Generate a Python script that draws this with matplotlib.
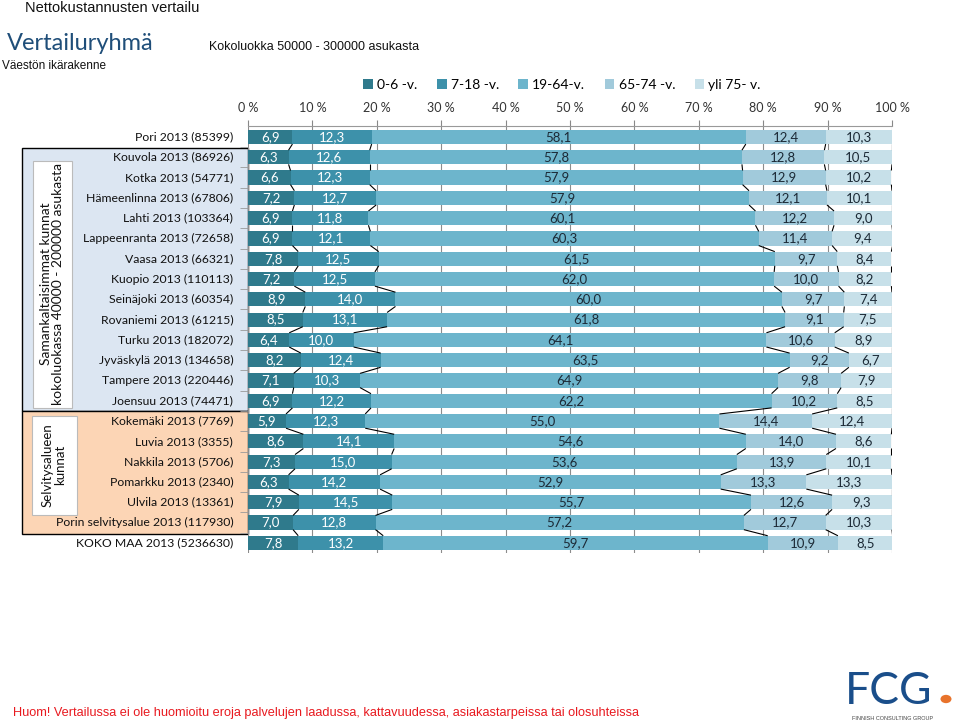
import matplotlib
matplotlib.use("Agg")
import matplotlib.pyplot as plt
from matplotlib.patches import Rectangle, Circle
import numpy as np

categories = [
    "Pori 2013 (85399)", "Kouvola 2013 (86926)", "Kotka 2013 (54771)",
    "Hämeenlinna 2013 (67806)", "Lahti 2013 (103364)", "Lappeenranta 2013 (72658)",
    "Vaasa 2013 (66321)", "Kuopio 2013 (110113)", "Seinäjoki 2013 (60354)",
    "Rovaniemi 2013 (61215)", "Turku 2013 (182072)", "Jyväskylä 2013 (134658)",
    "Tampere 2013 (220446)", "Joensuu 2013 (74471)", "Kokemäki 2013 (7769)",
    "Luvia 2013 (3355)", "Nakkila 2013 (5706)", "Pomarkku 2013 (2340)",
    "Ulvila 2013 (13361)", "Porin selvitysalue 2013 (117930)", "KOKO MAA 2013 (5236630)",
]
series_names = ["0-6 -v.", "7-18 -v.", "19-64-v.", "65-74 -v.", "yli 75- v."]
age_0_6 = [6.9, 6.3, 6.6, 7.2, 6.9, 6.9, 7.8, 7.2, 8.9, 8.5, 6.4, 8.2, 7.1, 6.9, 5.9, 8.6, 7.3, 6.3, 7.9, 7.0, 7.8]
age_7_18 = [12.3, 12.6, 12.3, 12.7, 11.8, 12.1, 12.5, 12.5, 14.0, 13.1, 10.0, 12.4, 10.3, 12.2, 12.3, 14.1, 15.0, 14.2, 14.5, 12.8, 13.2]
age_19_64 = [58.1, 57.8, 57.9, 57.9, 60.1, 60.3, 61.5, 62.0, 60.0, 61.8, 64.1, 63.5, 64.9, 62.2, 55.0, 54.6, 53.6, 52.9, 55.7, 57.2, 59.7]
age_65_74 = [12.4, 12.8, 12.9, 12.1, 12.2, 11.4, 9.7, 10.0, 9.7, 9.1, 10.6, 9.2, 9.8, 10.2, 14.4, 14.0, 13.9, 13.3, 12.6, 12.7, 10.9]
age_75 = [10.3, 10.5, 10.2, 10.1, 9.0, 9.4, 8.4, 8.2, 7.4, 7.5, 8.9, 6.7, 7.9, 8.5, 12.4, 8.6, 10.1, 13.3, 9.3, 10.3, 8.5]
x_ticks = [0, 10, 20, 30, 40, 50, 60, 70, 80, 90, 100]
x_tick_labels = [f"{t} %" for t in x_ticks]

colors = ["#2f7a8c", "#3d91aa", "#6db5cc", "#a1cadb", "#c7e0e9"]
label_colors = ["white", "white", "#1c2a36", "#1c2a36", "#1c2a36"]

W, H = 960, 726
fig = plt.figure(figsize=(W / 100, H / 100), dpi=100)

def fx(px):
    return px / W

def fy(py):
    return 1 - py / H

CAL = ["Lato", "DejaVu Sans"]
ARI = ["Liberation Sans", "DejaVu Sans"]

ax_left, ax_right, ax_top, ax_bot = 248, 892, 126, 553
ax = fig.add_axes([fx(ax_left), fy(ax_bot), fx(ax_right - ax_left), (ax_bot - ax_top) / H])

data = np.array([age_0_6, age_7_18, age_19_64, age_65_74, age_75]).T
n = len(categories)
y = np.arange(n)
bh = 0.7
cum = np.zeros(n)
cums = [np.zeros(n)]
for k in range(5):
    ax.barh(y, data[:, k], left=cum, height=bh, color=colors[k], zorder=2, label=series_names[k])
    for i in range(n):
        ax.text(cum[i] + data[i, k] / 2, y[i], f"{data[i, k]:.1f}".replace(".", ","),
                ha="center", va="center", fontsize=9.5, color=label_colors[k],
                family=CAL, zorder=4)
    cum = cum + data[:, k]
    cums.append(cum.copy())

# series lines
for k in range(1, 6):
    c = cums[k]
    for i in range(n - 1):
        ax.plot([c[i], c[i + 1]], [y[i] + bh / 2, y[i + 1] - bh / 2], color="black",
                lw=0.8, zorder=3, solid_capstyle="butt")

ax.set_xlim(0, 100)
ax.set_ylim(n - 0.5, -0.54)
ax.xaxis.tick_top()
ax.set_xticks(x_ticks)
ax.set_xticklabels(x_tick_labels, family=CAL, fontsize=9, color="#333333")
ax.tick_params(axis="x", length=4, color="#888888", pad=5)
ax.set_yticks(np.arange(n - 1) + 0.5, minor=True)
ax.set_yticks([])
ax.tick_params(axis="y", which="minor", length=6, color="#999999", direction="out")
ax.grid(axis="x", color="#8c8c8c", lw=0.8, zorder=0)
ax.set_axisbelow(True)
for s in ["left", "right", "bottom"]:
    ax.spines[s].set_visible(False)
ax.spines["top"].set_color("#999999")
ax.patch.set_alpha(0)

# category labels
for i, c in enumerate(categories):
    ax.text(-2.3, y[i], c, ha="right", va="center", fontsize=8.8,
            family=CAL, color="#111111", clip_on=False)

# panels (figure coordinates)
blue = Rectangle((fx(22), fy(411)), fx(248 - 22), (411 - 148) / H, transform=fig.transFigure,
                 facecolor="#dce6f2", edgecolor="black", lw=1.0, zorder=-5)
orange = Rectangle((fx(22), fy(534)), fx(248 - 22), (534 - 411) / H, transform=fig.transFigure,
                   facecolor="#fcd5b5", edgecolor="black", lw=1.0, zorder=-5)
fig.patches.extend([blue, orange])
wb1 = Rectangle((fx(33), fy(408)), fx(72 - 33), (408 - 161) / H, transform=fig.transFigure,
                facecolor="white", edgecolor="#bbbbbb", lw=0.8, zorder=-4)
wb2 = Rectangle((fx(32), fy(515)), fx(77 - 32), (515 - 416) / H, transform=fig.transFigure,
                facecolor="white", edgecolor="#bbbbbb", lw=0.8, zorder=-4)
fig.patches.extend([wb1, wb2])
fig.text(fx(52), fy(284), "Samankaltaisimmat kunnat\nkokoluokassa 40000 - 200000 asukasta",
         rotation=90, ha="center", va="center", fontsize=10, family=CAL,
         linespacing=1.05, color="#111111")
fig.text(fx(54), fy(465), "Selvitysalueen\nkunnat", rotation=90, ha="center", va="center",
         fontsize=9.5, family=CAL, linespacing=1.05, color="#111111")

# headings
fig.text(fx(25), fy(8), "Nettokustannusten vertailu", ha="left", va="center", fontsize=10.5,
         family=ARI, color="#111111")
fig.text(fx(7), fy(44), "Vertailuryhmä", ha="left", va="center", fontsize=17,
         family=CAL, color="#1f4e79")
fig.text(fx(209), fy(47), "Kokoluokka 50000 - 300000 asukasta", ha="left", va="center",
         fontsize=9, family=ARI, color="#111111")
fig.text(fx(2), fy(66), "Väestön ikärakenne", ha="left", va="center", fontsize=8.5,
         family=ARI, color="#111111")

# legend
handles, labels = ax.get_legend_handles_labels()
leg = fig.legend(handles, labels, loc="center", bbox_to_anchor=(fx(562), fy(85)), ncol=5,
                 frameon=False, handlelength=0.7, handleheight=0.7, handletextpad=0.3,
                 columnspacing=1.4, prop={"family": CAL, "size": 10})

# footer
fig.text(fx(13), fy(713), "Huom! Vertailussa ei ole huomioitu eroja palvelujen laadussa, kattavuudessa, asiakastarpeissa tai olosuhteissa",
         ha="left", va="center", fontsize=9.2, family=["Liberation Sans Narrow", "Liberation Sans"],
         color="#e8191f")
fig.text(fx(845), fy(691), "FCG", ha="left", va="center", fontsize=32, family=["Lato", "DejaVu Sans"],
         color="#1a4e8a")
fig.patches.append(Circle((fx(946), fy(699)), 5.5 / W, transform=fig.transFigure,
                          facecolor="#e8732b", edgecolor="none"))
fig.text(fx(893), fy(718), "FINNISH CONSULTING GROUP", ha="center", va="center", fontsize=4,
         family=ARI, color="#444444")

fig.savefig("out.png", dpi=100)
